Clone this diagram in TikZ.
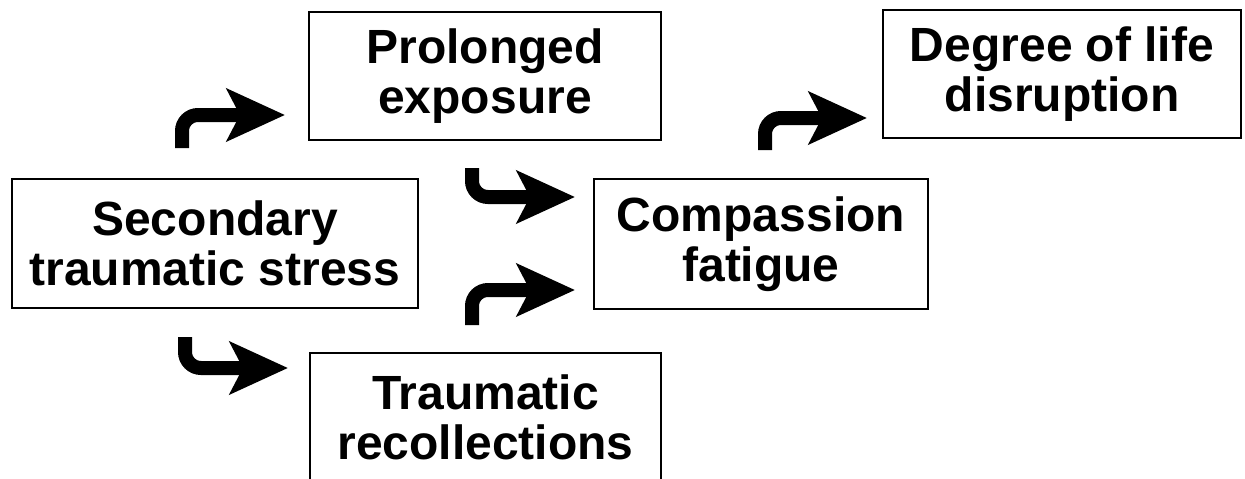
\documentclass[tikz,border=0pt]{standalone}
\usepackage{fontspec}
\setmainfont{Liberation Sans}
\usetikzlibrary{arrows.meta}
\begin{document}
\begin{tikzpicture}[x=1pt,y=-1pt,
  box/.style={draw, line width=2.5pt, inner sep=0pt, align=center,
    font=\bfseries\fontsize{48}{50}\selectfont},
  bent/.style={line width=14pt, rounded corners=16pt,
    -{Stealth[length=58pt,width=52pt,inset=13pt]}}]
\useasboundingbox (0,0) rectangle (1245,479);
\node[box, minimum width=406pt, minimum height=129pt] (sts) at (215,243.5) {Secondary\\traumatic stress};
\node[box, minimum width=352pt, minimum height=128pt] (pe) at (485,76) {Prolonged\\exposure};
\node[box, minimum width=334pt, minimum height=130pt] (cf) at (761,244) {Compassion\\fatigue};
\node[box, minimum width=358pt, minimum height=128pt] (dld) at (1062,74) {Degree of life\\disruption};
\node[box, minimum width=351pt, minimum height=129pt] (tr) at (485.5,417.5) {Traumatic\\recollections};
\coordinate (a1s) at (182,148); \coordinate (a1t) at (285,115);
\coordinate (a2s) at (472,168); \coordinate (a2t) at (575,197);
\coordinate (a3s) at (472,325); \coordinate (a3t) at (575,290);
\coordinate (a4s) at (185,337); \coordinate (a4t) at (288,368);
\coordinate (a5s) at (765,150); \coordinate (a5t) at (867,118);
\draw[bent] (a1s) |- (a1t);
\draw[bent] (a2s) |- (a2t);
\draw[bent] (a3s) |- (a3t);
\draw[bent] (a4s) |- (a4t);
\draw[bent] (a5s) |- (a5t);
\end{tikzpicture}
\end{document}
